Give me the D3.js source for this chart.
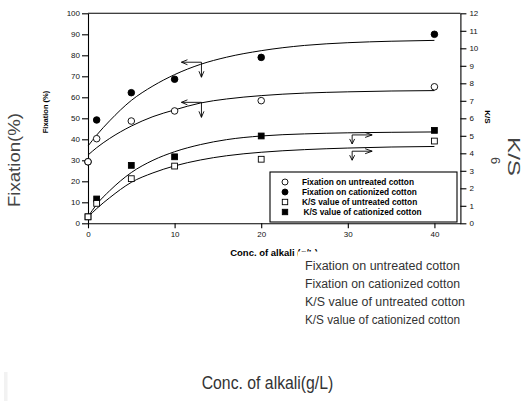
<!DOCTYPE html>
<html><head><meta charset="utf-8">
<script src="https://cdn.jsdelivr.net/npm/d3@7"></script>
<style>html,body{margin:0;padding:0;background:#fff;}svg{display:block;}</style>
</head><body>
<script>
// ---- data ----
const conc = [0, 1, 5, 10, 20, 40];
const fixUntreated  = [29.3, 40.3, 48.7, 53.5, 58.4, 65.0];
const fixCationized = [29.3, 49.2, 62.2, 68.6, 79.0, 90.0];
const ksUntreated   = [0.37, 1.14, 2.55, 3.27, 3.66, 4.70];
const ksCationized  = [0.37, 1.39, 3.31, 3.80, 4.99, 5.31];
// fitted curves
const curveX = [0, 1, 2.5, 5, 7.5, 10, 13, 16, 20, 25, 30, 35, 40];
const fitFixCationized = [36.8, 42.0, 48.8, 58.5, 65.4, 70.8, 75.7, 79.1, 82.2, 84.7, 86.0, 86.7, 87.1];
const fitFixUntreated  = [32.5, 36.0, 40.4, 46.3, 50.8, 54.0, 57.3, 59.2, 60.8, 62.0, 62.6, 63.0, 63.2];
const fitKsCationized  = [0.37, 1.08, 1.86, 2.90, 3.60, 4.09, 4.50, 4.78, 4.99, 5.11, 5.17, 5.20, 5.22];
const fitKsUntreated   = [0.36, 0.84, 1.46, 2.34, 2.88, 3.28, 3.62, 3.86, 4.06, 4.21, 4.30, 4.36, 4.39];
const xTicks = [0, 10, 20, 30, 40];
const leftTicks = [0, 10, 20, 30, 40, 50, 60, 70, 80, 90, 100];
const rightTicks = [0, 1, 2, 3, 4, 5, 6, 7, 8, 9, 10, 11, 12];
const legendLabels = ["Fixation on untreated cotton", "Fixation on cationized cotton",
                      "K/S value of untreated cotton", "K/S value of cationized cotton"];
const fixArrowAt = [[13.1, 76.7], [13.1, 57.6]];
const ksArrowAt = [[30.5, 5.05], [30.5, 4.12]];

// ---- drawing ----
const W = 522, H = 401;
const svg = d3.select("body").append("svg").attr("width", W).attr("height", H);
const x = d3.scaleLinear().domain([0, 43]).range([88, 460.4]);
const yL = d3.scaleLinear().domain([0, 100]).range([223.3, 13.3]);
const yR = d3.scaleLinear().domain([0, 12]).range([223.3, 13.3]);
const FONT = "'Liberation Sans', Arial, sans-serif";

// frame top line
svg.append("line").attr("x1", x(0)).attr("x2", x(43)).attr("y1", yL(100)).attr("y2", yL(100))
  .attr("stroke", "#000").attr("stroke-width", 1.1);

function styleAxis(g) {
  g.selectAll("path,line").attr("stroke", "#000").attr("stroke-width", 1.1);
  g.selectAll("text").attr("font-family", FONT).attr("font-size", 8).attr("fill", "#111");
}
svg.append("g").attr("transform", `translate(0,${yL(0)})`)
  .call(d3.axisBottom(x).tickValues(xTicks).tickSize(5).tickPadding(3).tickSizeOuter(0))
  .call(styleAxis);
svg.append("g").attr("transform", `translate(${x(0)},0)`)
  .call(d3.axisLeft(yL).tickValues(leftTicks).tickSize(6).tickPadding(2).tickSizeOuter(0))
  .call(styleAxis);
svg.append("g").attr("transform", `translate(${x(43)},0)`)
  .call(d3.axisRight(yR).tickValues(rightTicks).tickSize(6).tickPadding(3).tickSizeOuter(0))
  .call(styleAxis);

// fitted curves
const lineL = d3.line().x((d, i) => x(curveX[i])).y(d => yL(d)).curve(d3.curveMonotoneX);
const lineR = d3.line().x((d, i) => x(curveX[i])).y(d => yR(d)).curve(d3.curveMonotoneX);
[fitFixCationized, fitFixUntreated].forEach(s =>
  svg.append("path").attr("d", lineL(s)).attr("fill", "none").attr("stroke", "#000").attr("stroke-width", 1));
[fitKsCationized, fitKsUntreated].forEach(s =>
  svg.append("path").attr("d", lineR(s)).attr("fill", "none").attr("stroke", "#000").attr("stroke-width", 1));

// markers
function circles(vals, filled, scale) {
  svg.append("g").selectAll("circle").data(vals).join("circle")
    .attr("cx", (d, i) => x(conc[i])).attr("cy", d => scale(d)).attr("r", 3.3)
    .attr("fill", filled ? "#000" : "#fff").attr("stroke", "#000").attr("stroke-width", 0.9);
}
function squares(vals, filled, scale) {
  const s = 5.8;
  svg.append("g").selectAll("rect").data(vals).join("rect")
    .attr("x", (d, i) => x(conc[i]) - s / 2).attr("y", d => scale(d) - s / 2)
    .attr("width", s).attr("height", s)
    .attr("fill", filled ? "#000" : "#fff").attr("stroke", "#000").attr("stroke-width", 0.9);
}
circles(fixCationized, true, yL);
circles(fixUntreated, false, yL);
squares(ksCationized, true, yR);
squares(ksUntreated, false, yR);

// arrows
const arr = svg.append("g").attr("fill", "none").attr("stroke", "#000").attr("stroke-width", 0.9);
fixArrowAt.forEach(([ax, ay]) => {
  const px = x(ax), py = yL(ay);
  arr.append("line").attr("x1", px).attr("y1", py).attr("x2", px - 20).attr("y2", py);
  arr.append("path").attr("d", `M${px - 14},${py - 2.5}L${px - 20},${py}L${px - 14},${py + 2.5}`);
  arr.append("line").attr("x1", px).attr("y1", py).attr("x2", px).attr("y2", py + 15);
  arr.append("path").attr("d", `M${px - 2.5},${py + 9}L${px},${py + 15}L${px + 2.5},${py + 9}`);
});
ksArrowAt.forEach(([ax, ay]) => {
  const px = x(ax), py = yR(ay);
  arr.append("line").attr("x1", px).attr("y1", py).attr("x2", px + 20).attr("y2", py);
  arr.append("path").attr("d", `M${px + 13},${py - 2.5}L${px + 20},${py}L${px + 13},${py + 2.5}`);
  arr.append("line").attr("x1", px).attr("y1", py).attr("x2", px).attr("y2", py + 9);
  arr.append("path").attr("d", `M${px - 2.5},${py + 4}L${px},${py + 9}L${px + 2.5},${py + 4}`);
});

// legend box
const lg = svg.append("g");
lg.append("rect").attr("x", 270).attr("y", 172).attr("width", 187).attr("height", 50)
  .attr("fill", "#fff").attr("stroke", "#000").attr("stroke-width", 1.1);
legendLabels.forEach((t, i) => {
  const cy = 182 + i * 10;
  if (i < 2) lg.append("circle").attr("cx", 285).attr("cy", cy).attr("r", 3)
    .attr("fill", i === 1 ? "#000" : "#fff").attr("stroke", "#000").attr("stroke-width", 0.9);
  else lg.append("rect").attr("x", 282.3).attr("y", cy - 2.7).attr("width", 5.4).attr("height", 5.4)
    .attr("fill", i === 3 ? "#000" : "#fff").attr("stroke", "#000").attr("stroke-width", 0.9);
  lg.append("text").attr("x", i === 3 ? 303.5 : 302).attr("y", cy + 3)
    .attr("font-family", FONT).attr("font-weight", "bold").attr("font-size", 8.3)
    .attr("fill", "#000").text(t);
});

// axis titles (bold, small)
svg.append("text").attr("transform", "translate(48,112) rotate(-90)").attr("text-anchor", "middle")
  .attr("font-family", FONT).attr("font-weight", "bold").attr("font-size", 7.5).text("Fixation (%)");
svg.append("text").attr("transform", "translate(485,117) rotate(90)").attr("text-anchor", "middle")
  .attr("font-family", FONT).attr("font-weight", "bold").attr("font-size", 8).text("K/S");
svg.append("text").attr("x", 274).attr("y", 255.5).attr("text-anchor", "middle")
  .attr("font-family", FONT).attr("font-weight", "bold").attr("font-size", 9.5).text("Conc. of alkali (g/L)");

// overlay block
svg.append("rect").attr("x", 298).attr("y", 251.5).attr("width", 200).attr("height", 80).attr("fill", "#fff");
const thin = "'Liberation Sans Narrow', 'Liberation Sans', Arial, sans-serif";
const ends = [155, 155, 160, 155];
legendLabels.forEach((t, i) => {
  svg.append("text").attr("x", 305).attr("y", 269.5 + i * 18)
    .attr("font-family", thin).attr("font-size", 12.5).attr("fill", "#333")
    .attr("textLength", ends[i]).attr("lengthAdjust", "spacingAndGlyphs").text(t);
});
svg.append("text").attr("x", 201.7).attr("y", 389.3)
  .attr("font-family", thin).attr("font-size", 17.5).attr("fill", "#333")
  .attr("textLength", 131.6).attr("lengthAdjust", "spacingAndGlyphs").text("Conc. of alkali(g/L)");
svg.append("text").attr("transform", "translate(20,207) rotate(-90)")
  .attr("font-family", FONT).attr("font-size", 17).attr("fill", "#444")
  .attr("textLength", 94).attr("lengthAdjust", "spacingAndGlyphs").text("Fixation(%)");
svg.append("text").attr("transform", "translate(507.5,137) rotate(90)")
  .attr("font-family", FONT).attr("font-size", 16.5).attr("fill", "#444")
  .attr("textLength", 39).attr("lengthAdjust", "spacingAndGlyphs").text("K/S");
svg.append("text").attr("transform", "translate(491,157) rotate(90)")
  .attr("font-family", FONT).attr("font-size", 13).attr("fill", "#444").text("6");
svg.append("rect").attr("x", 4).attr("y", 372).attr("width", 3.5).attr("height", 29).attr("fill", "#f2f2f2");
</script>
</body></html>
